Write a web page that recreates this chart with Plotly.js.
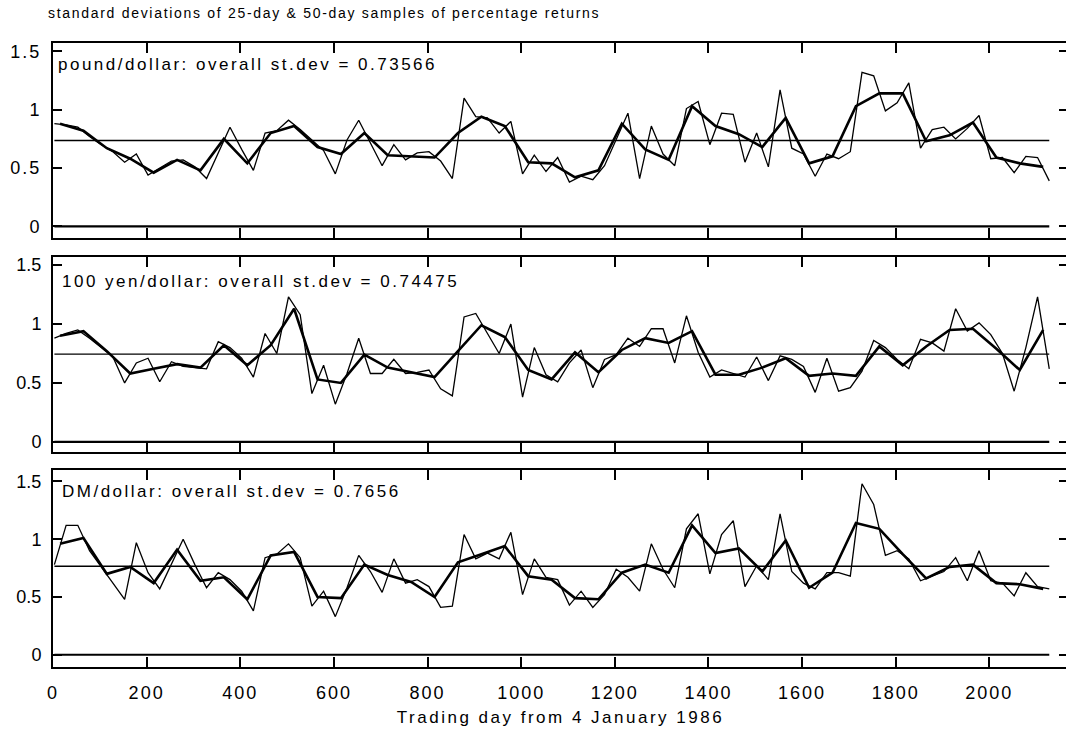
<!DOCTYPE html>
<html>
<head>
<meta charset="utf-8">
<script src="https://cdn.plot.ly/plotly-3.0.1.min.js"></script>
<style>
  html, body { margin: 0; padding: 0; background: #fff; overflow: hidden; }
  #chart { width: 1070px; height: 730px; }
  .gtitle { letter-spacing: 1.7px; }
  .annotation-text { letter-spacing: 2.5px; }
  .xtick text, .ytick text { letter-spacing: 2px; }
  .xtitle { letter-spacing: 2.5px; }
</style>
</head>
<body>
<div id="chart"></div>
<script>
// ---- data ----
const panelNames = ['pound/dollar', '100 yen/dollar', 'DM/dollar'];
const overallStdev = [0.73566, 0.74475, 0.7656];

// 25-day sample standard deviations (86 samples)
const pound25 = [
  0.88,0.87,0.85,0.77,0.70,0.64,0.55,0.62,0.44,0.50,
  0.56,0.57,0.51,0.41,0.63,0.85,0.66,0.48,0.80,0.82,
  0.91,0.83,0.74,0.65,0.45,0.74,0.91,0.72,0.52,0.70,
  0.57,0.63,0.64,0.56,0.41,1.10,0.94,0.93,0.80,0.90,
  0.45,0.61,0.47,0.59,0.38,0.43,0.40,0.52,0.75,0.97,
  0.41,0.86,0.62,0.52,1.01,1.07,0.70,0.97,0.96,0.55,
  0.80,0.51,1.17,0.67,0.62,0.43,0.62,0.58,0.64,1.32,
  1.29,0.99,1.06,1.23,0.67,0.83,0.85,0.75,0.84,0.95,
  0.58,0.59,0.46,0.60,0.59,0.39];
const yen25 = [
  0.88,0.92,0.95,0.88,0.80,0.72,0.50,0.67,0.71,0.51,
  0.68,0.64,0.63,0.62,0.85,0.80,0.71,0.55,0.92,0.75,
  1.23,1.08,0.41,0.65,0.32,0.58,0.88,0.58,0.58,0.70,
  0.58,0.59,0.61,0.45,0.39,1.06,1.09,0.92,0.75,1.00,
  0.38,0.80,0.57,0.51,0.67,0.78,0.46,0.70,0.74,0.88,
  0.81,0.96,0.96,0.67,1.07,0.76,0.55,0.61,0.58,0.55,
  0.72,0.52,0.73,0.70,0.64,0.42,0.71,0.43,0.46,0.60,
  0.86,0.80,0.70,0.62,0.87,0.84,0.77,1.13,0.94,1.01,
  0.91,0.75,0.43,0.80,1.23,0.62];
const dm25 = [
  0.78,1.12,1.12,0.90,0.76,0.62,0.48,0.97,0.71,0.57,
  0.78,1.00,0.78,0.58,0.71,0.65,0.55,0.38,0.84,0.87,
  0.96,0.84,0.42,0.55,0.33,0.58,0.86,0.72,0.54,0.83,
  0.62,0.65,0.59,0.41,0.42,1.04,0.83,0.88,0.83,1.06,
  0.52,0.83,0.67,0.65,0.43,0.55,0.41,0.52,0.74,0.67,
  0.55,0.96,0.74,0.58,1.09,1.22,0.70,1.04,1.16,0.59,
  0.77,0.65,1.22,0.72,0.62,0.57,0.71,0.71,0.68,1.48,
  1.30,0.86,0.90,0.83,0.64,0.68,0.72,0.84,0.64,0.90,
  0.64,0.62,0.51,0.71,0.59,0.57];

// 50-day sample standard deviations (43 samples)
const pound50 = [
  0.88,0.82,0.67,0.58,0.46,0.57,0.48,0.75,0.54,0.80,
  0.86,0.68,0.62,0.80,0.61,0.60,0.59,0.80,0.94,0.86,
  0.55,0.54,0.42,0.48,0.88,0.66,0.57,1.03,0.86,0.79,
  0.68,0.93,0.54,0.60,1.03,1.14,1.14,0.73,0.78,0.89,
  0.59,0.54,0.51];
const yen50 = [
  0.90,0.94,0.77,0.58,0.62,0.66,0.63,0.82,0.65,0.82,
  1.13,0.53,0.50,0.74,0.63,0.59,0.55,0.77,0.99,0.89,
  0.61,0.53,0.76,0.59,0.78,0.88,0.84,0.94,0.57,0.57,
  0.63,0.71,0.56,0.58,0.56,0.81,0.65,0.81,0.95,0.96,
  0.79,0.61,0.95];
const dm50 = [
  0.96,1.01,0.70,0.76,0.62,0.91,0.64,0.67,0.48,0.86,
  0.89,0.50,0.49,0.78,0.69,0.63,0.50,0.80,0.87,0.94,
  0.68,0.65,0.49,0.48,0.71,0.78,0.71,1.12,0.88,0.92,
  0.72,0.99,0.58,0.71,1.14,1.09,0.87,0.66,0.76,0.78,
  0.62,0.61,0.57];

// sample positions (trading day)
const days25 = pound25.map((_, i) => 25 * i + 3);
const days50 = pound50.map((_, j) => 50 * j + 15);

const xTickVals = [0, 200, 400, 600, 800, 1000, 1200, 1400, 1600, 1800, 2000];
const yTickVals = [0, 0.5, 1, 1.5];
const yTickText = ['0', '0.5', '1', '1.5'];

// ---- build ----
const FONT = 'Liberation Sans, Arial, Helvetica, sans-serif';
const series25 = [pound25, yen25, dm25];
const series50 = [pound50, yen50, dm50];
const yrefs = ['y', 'y2', 'y3'];
const traces = [];
const xStart = days25[0];
const xEnd = days25[days25.length - 1];

for (let p = 0; p < 3; p++) {
  const xa = p === 0 ? 'x3' : (p === 1 ? 'x2' : 'x');
  // zero line
  traces.push({x: [xStart, xEnd], y: [0, 0], xaxis: xa, yaxis: yrefs[p],
    mode: 'lines', line: {color: '#000', width: 2.2}, hoverinfo: 'skip'});
  // overall st.dev line
  traces.push({x: [xStart, xEnd], y: [overallStdev[p], overallStdev[p]], xaxis: xa, yaxis: yrefs[p],
    mode: 'lines', line: {color: '#000', width: 1.4}, hoverinfo: 'skip'});
  // 25-day
  traces.push({x: days25, y: series25[p], xaxis: xa, yaxis: yrefs[p],
    mode: 'lines', line: {color: '#000', width: 1.3}});
  // 50-day
  traces.push({x: days50, y: series50[p], xaxis: xa, yaxis: yrefs[p],
    mode: 'lines', line: {color: '#000', width: 2.6}});
}

const xBase = {
  range: [0, 2168], tickvals: xTickVals, ticks: 'inside', ticklen: 10, tickwidth: 2,
  tickcolor: '#000', mirror: 'ticks', showline: true, linewidth: 2, linecolor: '#000',
  showgrid: false, zeroline: false, fixedrange: true
};
const yBase = {
  tickvals: yTickVals, ticktext: yTickText, ticks: 'inside', ticklen: 9, tickwidth: 2,
  tickcolor: '#000', mirror: 'ticks', showline: true, linewidth: 2, linecolor: '#000',
  showgrid: false, zeroline: false, fixedrange: true,
  tickfont: {family: FONT, size: 18, color: '#000'}, ticklabelstandoff: 6
};

const layout = {
  width: 1070, height: 730,
  margin: {l: 53, r: 2, t: 43, b: 63},
  paper_bgcolor: '#fff', plot_bgcolor: '#fff',
  showlegend: false,
  font: {family: FONT, color: '#000'},
  title: {
    text: 'standard deviations of 25-day & 50-day samples of percentage returns',
    font: {family: FONT, size: 14, color: '#000'},
    x: 48 / 1070, xref: 'container', xanchor: 'left',
    y: 1 - 13.5 / 730, yref: 'container', yanchor: 'middle'
  },
  xaxis: Object.assign({}, xBase, {anchor: 'y3', domain: [0, 1],
    tickfont: {family: FONT, size: 18, color: '#000'}, ticklabelstandoff: 8,
    title: {text: 'Trading day from 4 January 1986', font: {family: FONT, size: 17, color: '#000'}, standoff: 10}}),
  xaxis2: Object.assign({}, xBase, {anchor: 'y2', matches: 'x', showticklabels: false}),
  xaxis3: Object.assign({}, xBase, {anchor: 'y', matches: 'x', showticklabels: false}),
  yaxis: Object.assign({}, yBase, {domain: [0.6875, 1], range: [-0.1, 1.572], anchor: 'x3'}),
  yaxis2: Object.assign({}, yBase, {domain: [0.3446, 0.657], range: [-0.086, 1.569], anchor: 'x2'}),
  yaxis3: Object.assign({}, yBase, {domain: [0, 0.315], range: [-0.106, 1.595], anchor: 'x'}),
  annotations: panelNames.map((name, p) => ({
    text: name + ': overall st.dev = ' + overallStdev[p],
    xref: 'paper', x: 0, xanchor: 'left', xshift: p === 0 ? 3 : 7,
    yref: yrefs[p] + ' domain', y: 1, yanchor: 'middle', yshift: p === 1 ? -24 : -21,
    showarrow: false, font: {family: FONT, size: 17, color: '#000'}
  }))
};

Plotly.newPlot('chart', traces, layout, {displayModeBar: false, staticPlot: true});
</script>
</body>
</html>
